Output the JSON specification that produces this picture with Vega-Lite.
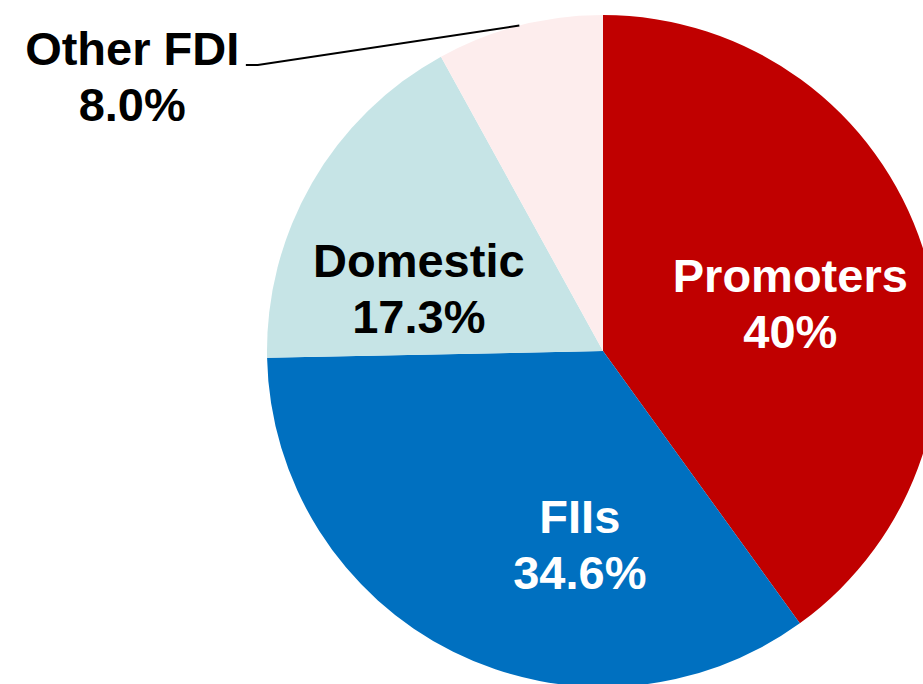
{
  "$schema": "https://vega.github.io/schema/vega-lite/v6.json",
  "width": 640,
  "height": 666,
  "autosize": {"type": "none"},
  "padding": {"left": 283, "top": 18, "right": 0, "bottom": 0},
  "background": "white",
  "config": {"view": {"stroke": null}},
  "datasets": {
    "shares": [
      {"cat": "Promoters", "value": 40.0, "ord": 1, "label": "Promoters\n40%"},
      {"cat": "FIIs", "value": 34.6, "ord": 2, "label": "FIIs\n34.6%"},
      {"cat": "Domestic", "value": 17.3, "ord": 3, "label": "Domestic\n17.3%"},
      {"cat": "Other FDI", "value": 8.0, "ord": 4, "label": "Other FDI\n8.0%"}
    ],
    "leader": [
      {"px": -0.2489, "py": 0.9685, "step": 1},
      {"px": -1.027, "py": 0.851, "step": 2},
      {"px": -1.0625, "py": 0.851, "step": 3}
    ]
  },
  "layer": [
    {
      "data": {"name": "shares"},
      "mark": {"type": "arc", "outerRadius": 336, "stroke": null},
      "encoding": {
        "theta": {"field": "value", "type": "quantitative", "stack": true},
        "order": {"field": "ord", "type": "quantitative"},
        "color": {
          "field": "cat",
          "type": "nominal",
          "scale": {
            "domain": ["Promoters", "FIIs", "Domestic", "Other FDI"],
            "range": ["#C00000", "#0070C0", "#C6E4E6", "#FDEDED"]
          },
          "legend": null
        }
      }
    },
    {
      "data": {"name": "shares"},
      "mark": {
        "type": "text",
        "radius": 200,
        "font": "Liberation Sans",
        "fontWeight": "bold",
        "fontSize": 47,
        "lineBreak": "\n",
        "lineHeight": 56,
        "align": "center",
        "baseline": "alphabetic",
        "dx": {"expr": "datum.cat === 'Promoters' ? -3 : datum.cat === 'FIIs' ? 66 : datum.cat === 'Domestic' ? -11 : -421"},
        "dy": {"expr": "datum.cat === 'Promoters' ? 3 : datum.cat === 'FIIs' ? 3 : datum.cat === 'Domestic' ? 26 : -92"}
      },
      "encoding": {
        "theta": {"field": "value", "type": "quantitative", "stack": true},
        "order": {"field": "ord", "type": "quantitative"},
        "text": {"field": "label", "type": "nominal"},
        "color": {
          "condition": {"test": "datum.cat === 'Promoters' || datum.cat === 'FIIs'", "value": "white"},
          "value": "black"
        }
      }
    },
    {
      "data": {"name": "leader"},
      "mark": {"type": "line", "color": "black", "strokeWidth": 2},
      "encoding": {
        "x": {"field": "px", "type": "quantitative", "scale": {"domain": [-0.952, 0.952], "nice": false, "zero": false}, "axis": null},
        "y": {"field": "py", "type": "quantitative", "scale": {"domain": [-0.991, 0.991], "nice": false, "zero": false}, "axis": null},
        "order": {"field": "step", "type": "quantitative"}
      }
    }
  ]
}
